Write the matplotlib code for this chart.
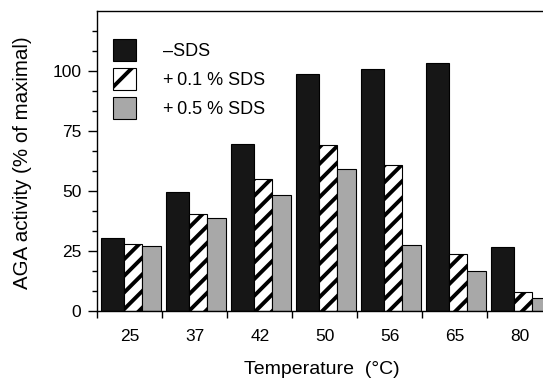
import matplotlib
matplotlib.use("Agg")
import matplotlib.pyplot as plt
from matplotlib.patches import Patch
import numpy as np

plt.rcParams['font.family'] = ['Liberation Sans', 'DejaVu Sans']
plt.rcParams['hatch.linewidth'] = 2.8

temps = ['25', '37', '42', '50', '56', '65', '80']
no_sds = [30.5, 49.5, 69.5, 98.8, 100.7, 103.5, 26.5]
sds_01 = [28.0, 40.3, 54.8, 69.3, 61.0, 23.7, 7.9]
sds_05 = [27.0, 38.7, 48.3, 59.0, 27.5, 16.7, 5.5]
series_labels = ['\u2013SDS', '+\u20090.1 % SDS', '+\u20090.5 % SDS']

W, H = 543, 380
fig = plt.figure(figsize=(W / 100, H / 100), dpi=100)
ax = fig.add_axes([97.3 / W, 69 / H, (W - 97.3) / W, 300 / H])

x = np.arange(len(temps))
wb, wh, wg = 0.345, 0.285, 0.285
start = x - 0.44
ax.bar(start, no_sds, width=wb, align='edge', color='#161616', edgecolor='black', linewidth=0.8)
ax.bar(start + wb, sds_01, width=wh, align='edge', color='white', edgecolor='black',
       hatch='//', linewidth=0.8)
ax.bar(start + wb + wh, sds_05, width=wg, align='edge', color='#a8a8a8', edgecolor='black',
       linewidth=0.8)

ax.set_xlim(-0.5, (W - 97.3) / 65 - 0.5)
ax.set_ylim(0, 125)

ax.spines['right'].set_visible(False)
for s in ['left', 'top', 'bottom']:
    ax.spines[s].set_linewidth(1.0)

ax.set_yticks([0, 25, 50, 75, 100])
ax.set_yticks([v * 25 / 3 for v in range(1, 15) if v % 3 != 0], minor=True)
ax.tick_params(axis='y', which='major', length=6.5, width=1.0, direction='out', labelsize=12.5, pad=5)
ax.tick_params(axis='y', which='minor', length=3.6, width=1.0, direction='out')

ax.set_xticks(np.arange(-0.5, len(temps) - 0.5, 1.0))
ax.set_xticklabels([])
ax.set_xticks(x, temps, minor=True)
ax.tick_params(axis='x', which='major', length=5, width=1.0, direction='out')
ax.tick_params(axis='x', which='minor', length=0, labelsize=12.5, pad=13)

fig.text(322 / W, 1 - 370 / H, 'Temperature  (\u00b0C)', ha='center', va='center', fontsize=14)
fig.text(23 / W, 1 - 163 / H, 'AGA activity (% of maximal)', ha='center', va='center',
         rotation=90, fontsize=14.8)

handles = [Patch(facecolor='#161616', edgecolor='black', linewidth=0.8),
           Patch(facecolor='white', edgecolor='black', hatch='/', linewidth=0.8),
           Patch(facecolor='#a8a8a8', edgecolor='black', linewidth=0.8)]
leg = fig.legend(handles, series_labels, loc='upper left',
                 bbox_to_anchor=(113 / W, 1 - 39 / H), bbox_transform=fig.transFigure,
                 frameon=False, fontsize=13, handlelength=1.25, handleheight=1.5,
                 labelspacing=0.38, handletextpad=1.5, borderpad=0, borderaxespad=0)

fig.savefig('out.png', dpi=100)
